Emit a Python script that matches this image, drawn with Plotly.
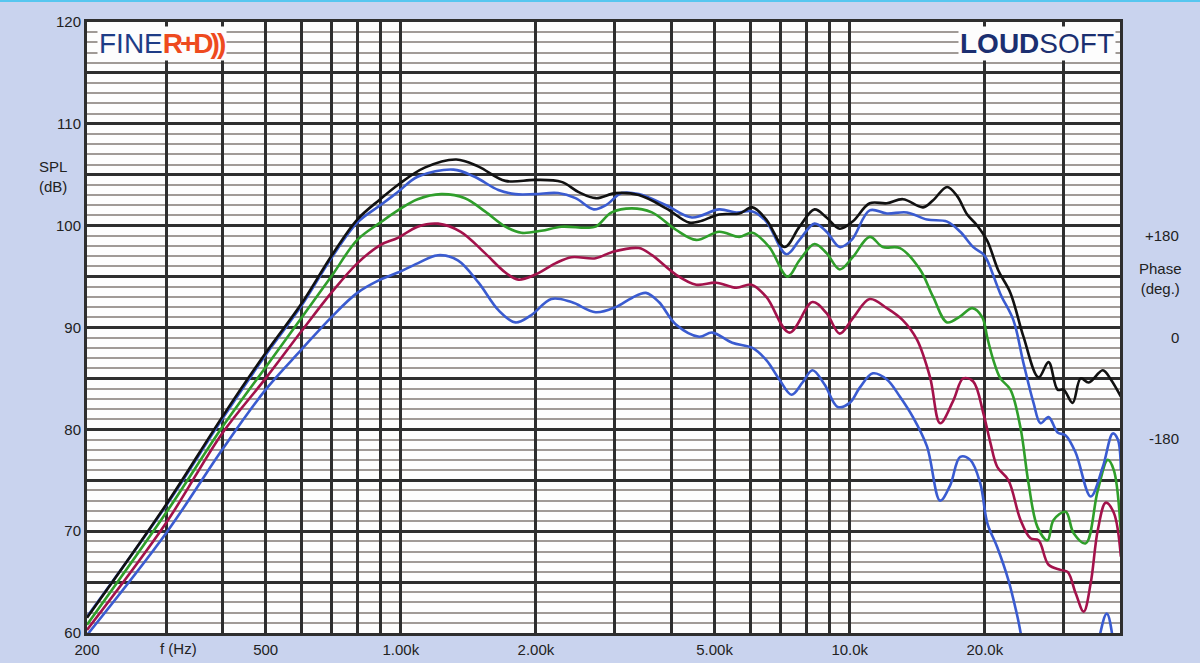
import plotly.graph_objects as go

# ---------------- data ----------------
f_black = [200, 300, 400, 500, 600, 700, 800, 900, 985, 1130, 1330, 1490, 1710, 1990, 2280, 2490, 2720, 3010,
           3390, 3900, 4390, 4620, 5120, 5680, 6070, 6520, 7160, 7730, 8350, 8880, 9500, 10150, 11080, 12100,
           13140, 14570, 15340, 16480, 17350, 18270, 19240, 20250, 21430, 22800, 24380, 26340, 27730, 29040,
           29950, 31370, 32690, 34070, 36620, 38160, 40180]
spl_black = [61.5, 72.6, 81.2, 87.5, 92.3, 97.0, 100.6, 102.6, 104.0, 105.7, 106.5, 105.8, 104.4, 104.5, 104.3,
             103.3, 102.7, 103.2, 103.0, 101.7, 100.3, 100.4, 101.1, 101.2, 101.8, 100.6, 97.9, 99.9, 101.6,
             100.8, 99.7, 100.4, 102.2, 102.2, 102.6, 101.8, 102.5, 103.8, 102.9, 101.1, 100.0, 98.5, 95.6,
             93.4, 89.1, 85.1, 86.6, 83.9, 83.9, 82.6, 85.0, 84.6, 85.8, 84.9, 83.2]

f_blue15 = [200, 300, 400, 500, 600, 700, 800, 900, 985, 1090, 1310, 1460, 1650, 1800, 1990, 2240, 2450, 2690,
            2860, 3105, 3390, 3900, 4450, 5120, 5590, 6070, 6520, 7230, 7730, 8350, 8880, 9500, 10100, 11080,
            12100, 13410, 14870, 16480, 17630, 18840, 19840, 20250, 21660, 23160, 24380, 25670, 26610, 27730,
            29040, 30270, 31870, 34420, 36620, 38550, 39560, 40180]
spl_blue15 = [61.6, 72.5, 81.0, 87.3, 92.1, 96.8, 100.3, 102.0, 103.3, 104.8, 105.5, 104.8, 103.5, 103.1, 103.1,
              103.2, 102.7, 101.6, 102.0, 103.2, 103.1, 102.0, 100.8, 101.6, 101.3, 101.4, 100.4, 97.2, 98.6,
              100.2, 99.4, 97.9, 98.6, 101.5, 101.2, 101.3, 100.6, 100.4, 99.4, 97.9, 97.2, 96.6, 93.3, 90.7,
              86.5, 82.6, 80.6, 81.2, 79.7, 79.4, 77.7, 73.4, 76.3, 79.6, 79.0, 76.0]

f_green = [200, 300, 400, 500, 600, 700, 800, 900, 985, 1090, 1230, 1390, 1540, 1710, 1855, 2056, 2280, 2580,
           2716, 2950, 3270, 3626, 4100, 4550, 5120, 5675, 6070, 6620, 7270, 7730, 8350, 8880, 9500, 10155,
           11080, 11850, 12940, 14340, 15340, 16480, 17625, 18750, 19740, 20250, 20890, 21660, 22800, 24000,
           25020, 26200, 27580, 28450, 30265, 31536, 33546, 35690, 37570, 38750, 40180]
spl_green = [60.8, 71.8, 80.2, 86.1, 90.9, 95.0, 98.6, 100.3, 101.5, 102.6, 103.1, 102.7, 101.4, 99.9, 99.3,
             99.5, 99.9, 99.8, 99.9, 101.3, 101.7, 101.3, 99.6, 98.6, 99.4, 98.9, 99.3, 97.9, 95.0, 96.6, 98.2,
             97.3, 95.7, 96.9, 98.9, 97.9, 97.8, 95.7, 93.0, 90.5, 91.1, 91.9, 91.0, 89.0, 86.8, 85.0, 83.9,
             80.2, 74.7, 70.4, 69.1, 71.1, 71.9, 69.8, 68.8, 74.0, 77.0, 76.0, 69.8]

f_crimson = [200, 300, 400, 500, 600, 700, 800, 900, 985, 1090, 1210, 1360, 1540, 1710, 1827, 1994, 2210, 2400,
             2716, 2950, 3390, 3626, 4100, 4550, 5040, 5590, 6040, 6520, 7340, 8260, 8880, 9500, 10155, 11080,
             12100, 13140, 14120, 15100, 15900, 17000, 17900, 18840, 19840, 20570, 21320, 22570, 24010, 25270,
             26340, 27730, 29490, 30580, 31870, 33200, 34420, 35690, 37190, 38750, 40180]
spl_crimson = [60.3, 70.8, 79.6, 85.0, 89.6, 93.4, 96.3, 98.1, 98.8, 99.9, 100.2, 99.4, 97.3, 95.4, 94.7, 95.2,
               96.3, 96.9, 96.8, 97.4, 97.8, 97.1, 95.2, 94.2, 94.4, 93.9, 94.2, 93.0, 89.5, 92.5, 91.4, 89.4,
               90.9, 92.8, 91.9, 90.7, 88.8, 85.1, 80.6, 82.8, 85.0, 84.7, 81.6, 78.7, 76.3, 75.0, 71.1, 69.3,
               69.1, 66.7, 66.2, 66.0, 63.9, 62.1, 64.9, 70.1, 72.8, 71.8, 67.5]

f_blue60 = [200, 300, 400, 500, 600, 700, 800, 900, 985, 1090, 1210, 1340, 1490, 1650, 1800, 1950, 2165, 2400,
            2716, 3010, 3270, 3516, 3758, 4100, 4620, 4940, 5475, 6070, 6520, 6970, 7420, 7850, 8260, 8790,
            9400, 10000, 10530, 11260, 12100, 12940, 13830, 14870, 15900, 16740, 17625, 18555, 19536, 20253,
            21324, 22568, 23640, 25000, 27500, 30500, 33500, 35500, 37380, 39000, 40180]
spl_blue60 = [59.8, 69.8, 78.0, 83.9, 87.8, 91.0, 93.4, 94.7, 95.4, 96.3, 97.1, 96.6, 94.4, 91.7, 90.5, 91.2,
              92.8, 92.5, 91.5, 92.0, 92.9, 93.4, 92.5, 90.3, 89.1, 89.5, 88.5, 88.0, 86.8, 84.9, 83.4, 84.6,
              85.8, 84.4, 82.2, 82.6, 84.1, 85.5, 84.9, 83.2, 81.2, 78.3, 73.0, 74.5, 77.3, 77.0, 74.7, 70.8,
              68.4, 65.2, 61.6, 56.5, 52.0, 51.0, 54.0, 58.5, 61.9, 58.0, 54.0]

x_ticks = [200, 300, 400, 500, 600, 700, 800, 900, 1000, 2000, 3000, 4000, 5000, 6000, 7000, 8000, 9000,
           10000, 20000, 30000]
x_labels = ["200", "", "", "500", "", "", "", "", "1.00k", "2.00k", "", "", "5.00k", "", "", "", "",
            "10.0k", "20.0k", ""]
y_ticks = [60, 65, 70, 75, 80, 85, 90, 95, 100, 105, 110, 115, 120]
y_labels = ["60", "", "70", "", "80", "", "90", "", "100", "", "110", "", "120"]

# ---------------- figure ----------------
W, H = 1200, 663
L, R, T, B = 87, 1120, 22, 633   # plot area in pixels
FONT = "Liberation Sans, Arial, Helvetica, sans-serif"


def px(xp):
    return (xp - L) / (R - L)


def py(yp):
    return (B - yp) / (B - T)


series = [
    (f_blue60, spl_blue60, "#3a5bd0"),
    (f_crimson, spl_crimson, "#a3124b"),
    (f_green, spl_green, "#2f9e2a"),
    (f_blue15, spl_blue15, "#3a5bd0"),
    (f_black, spl_black, "#111111"),
]

fig = go.Figure()
for f, s, c in series:
    fig.add_trace(go.Scatter(x=f, y=s, mode="lines",
                             line=dict(color=c, width=2.6, shape="spline", smoothing=1.0),
                             hoverinfo="skip", showlegend=False))

fig.update_layout(
    width=W, height=H,
    margin=dict(l=L, r=W - R, t=T, b=H - B, pad=0),
    paper_bgcolor="#c9d3ee",
    plot_bgcolor="#fdfdfd",
    font=dict(family=FONT, size=15, color="#222222"),
    showlegend=False,
)

fig.update_xaxes(
    type="log", range=[2.30103, 4.60206], automargin=False,
    tickvals=x_ticks, ticktext=x_labels, ticks="", ticklabelstandoff=1,
    showgrid=True, gridcolor="#2e2e2e", gridwidth=2.5,
    showline=True, linecolor="#2e2e2e", linewidth=3, mirror=True,
    zeroline=False, tickfont=dict(size=15, color="#222"),
)
fig.update_yaxes(
    range=[60, 120], automargin=False,
    tickvals=y_ticks, ticktext=y_labels, ticks="",
    showgrid=True, gridcolor="#2e2e2e", gridwidth=3,
    minor=dict(dtick=1, tick0=60, showgrid=True, gridcolor="#a09a96", gridwidth=2),
    showline=True, linecolor="#2e2e2e", linewidth=3, mirror=True,
    zeroline=False, tickfont=dict(size=15, color="#222"),
)

ann = [
    dict(x=px(178), y=py(648), text="f (Hz)", xanchor="center"),
    dict(x=px(53), y=py(177), text="SPL<br>(dB)", xanchor="center"),
    dict(x=px(1181), y=py(236), text="+180", xanchor="right"),
    dict(x=px(1184), y=py(278), text="Phase<br>(deg.)", xanchor="right"),
    dict(x=px(1181), y=py(337), text="0", xanchor="right"),
    dict(x=px(1181), y=py(438), text="-180", xanchor="right"),
]
for a in ann:
    fig.add_annotation(xref="paper", yref="paper", showarrow=False, yanchor="middle",
                       font=dict(family=FONT, size=15, color="#222"), **a)

fig.add_annotation(
    xref="paper", yref="paper", x=px(97), y=py(44), xanchor="left", yanchor="middle", showarrow=False,
    text="<span style='color:#1e3c86'>FINE</span>"
         "<span style='color:#ee4a1e;letter-spacing:-3px'><b>R+D))</b></span>",
    font=dict(family=FONT, size=28, color="#1e3c86"),
    bgcolor="#fdfdfd", borderpad=1,
)
fig.add_annotation(
    xref="paper", yref="paper", x=px(1116), y=py(43), xanchor="right", yanchor="middle", showarrow=False,
    text="<b>LOUD</b>SOFT",
    font=dict(family=FONT, size=28, color="#1b2f70"),
    bgcolor="#fdfdfd", borderpad=1,
)

fig.add_shape(type="line", xref="paper", yref="paper", x0=px(0), x1=px(W), y0=py(1), y1=py(1),
              line=dict(color="#56c6ef", width=2), layer="above")

fig.write_html("out.html", config={"displayModeBar": False},
               post_script="document.body.style.margin='0';")
